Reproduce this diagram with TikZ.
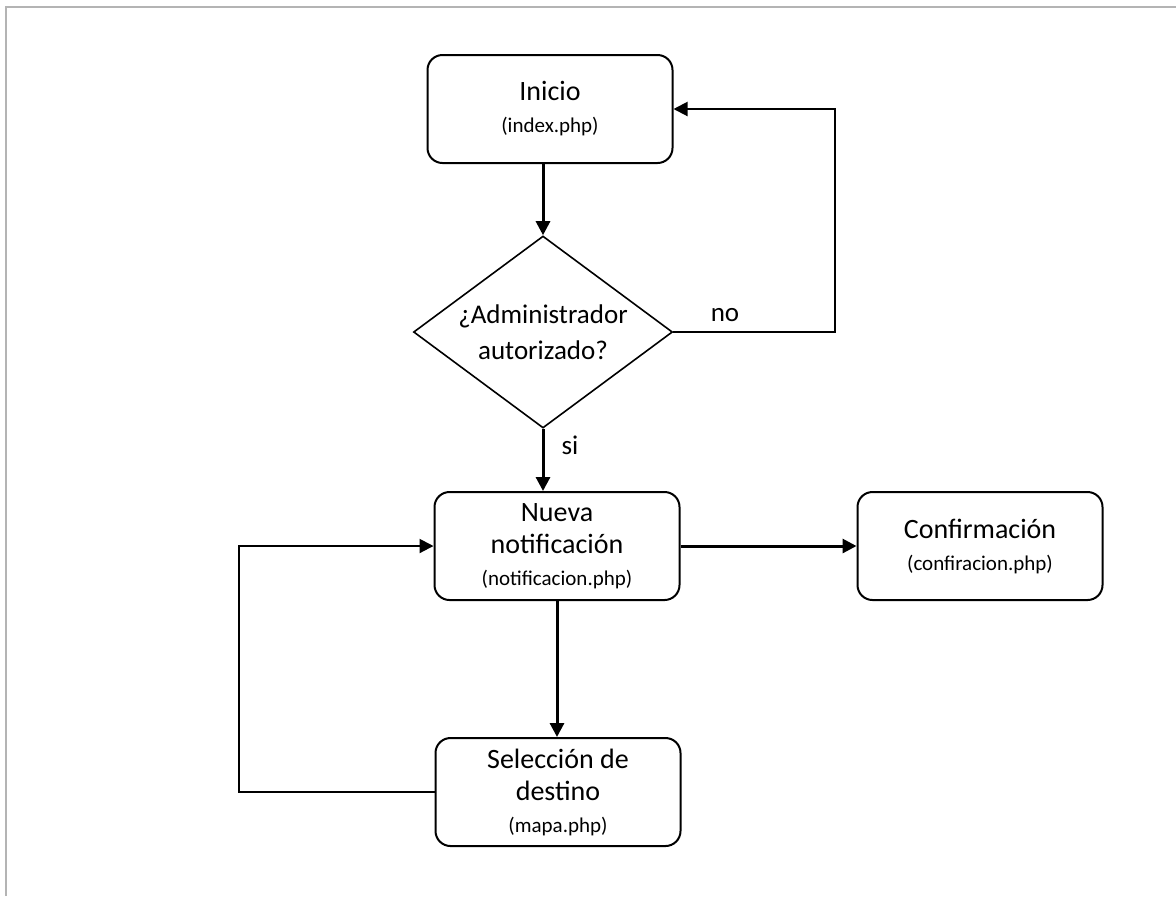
\documentclass[tikz,border=0pt]{standalone}
\usepackage{fontspec}
\setmainfont{Carlito}
\usetikzlibrary{shapes.geometric,arrows.meta}
\newcommand{\pagina}[1]{{\fontsize{10.5}{14}\selectfont(#1)}}

\begin{document}
\begin{tikzpicture}[x=0.5pt,y=-0.5pt,
  caja/.style={draw,line width=1pt,rounded corners=7.5pt,minimum width=122.5pt,
    minimum height=54pt,align=center,font=\fontsize{14}{16}\selectfont},
  decision/.style={draw,diamond,line width=0.8pt,aspect=1.35,inner sep=1pt,
    minimum width=129.5pt,minimum height=96pt,align=center,font=\fontsize{13.5}{18}\selectfont},
  flecha/.style={-{Triangle[length=7pt,width=7pt]},line width=1.5pt},
  lazo/.style={line width=1pt},
  etiqueta/.style={font=\fontsize{13.5}{16}\selectfont}]
  \definecolor{cborde}{RGB}{180,180,180}
  \useasboundingbox (0,0) rectangle (1176,896);
  \draw[cborde,line width=1pt] (6,896) -- (6,7) -- (1176,7);
  % nodos
  \node[caja] (ini) at (550,109) {Inicio\\\pagina{index.php}};
  \node[decision] (dec) at (543,332) {¿Administrador\\autorizado?};
  \node[caja] (nue) at (557,546) {Nueva\\notificación\\\pagina{notificacion.php}};
  \node[caja] (con) at (980,546) {Confirmación\\\pagina{confiracion.php}};
  \node[caja] (sel) at (558,792) {Selección de\\destino\\\pagina{mapa.php}};
  % conexiones
  \draw[flecha] (dec.north |- ini.south) -- (dec.north);
  \draw[lazo,-{Triangle[length=7pt,width=7pt]}] (dec.east) -- ++(162,0) |- (ini.east);
  \node[etiqueta] (no) at (725,315) {no};
  \draw[flecha] (dec.south) -- (dec.south |- nue.north);
  \node[etiqueta] (si) at (570,445) {si};
  \draw[flecha] (nue.east) -- (con.west);
  \draw[flecha] (nue.south) -- (nue.south |- sel.north);
  \draw[lazo,-{Triangle[length=7pt,width=7pt]}] (sel.west) -- ++(-196,0) |- (nue.west);
\end{tikzpicture}
\end{document}
